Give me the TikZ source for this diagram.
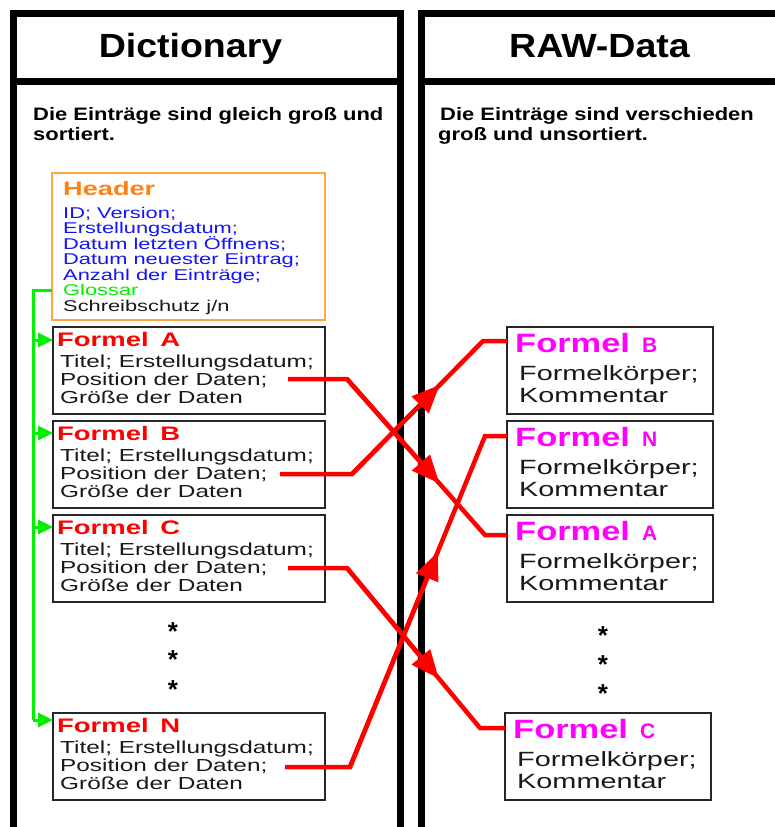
\documentclass[tikz,border=0pt]{standalone}
\usepackage{fontspec}
\setmainfont{Liberation Sans}
\newfontfamily\ttlfont[FakeStretch=1.12]{Liberation Sans}
\newfontfamily\subfont[FakeStretch=1.22]{Liberation Sans}
\newfontfamily\boxfont[FakeStretch=1.4]{Liberation Sans}
\newfontfamily\rfont[FakeStretch=1.3]{Liberation Sans}
\usetikzlibrary{arrows.meta,calc}

\definecolor{hdrorange}{RGB}{255,130,20}
\definecolor{hdrborder}{RGB}{255,165,70}
\definecolor{hdrblue}{RGB}{20,20,245}
\definecolor{glgreen}{RGB}{0,240,0}
\definecolor{lnred}{RGB}{255,0,0}
\definecolor{fmag}{RGB}{255,0,255}

\newcommand\lentry[3]{%
  \node[lbox] (#1) at (53,#2) {};
  \node[ltitle] (#1-t) at ($(#1.north west)+(4,19)$) {Formel\hspace{4pt} #3};
  \node[lbody] (#1-a) at ($(#1.north west)+(7,40)$) {Titel; Erstellungsdatum;};
  \node[lbody] (#1-b) at ($(#1.north west)+(7,58)$) {Position der Daten;};
  \node[lbody] (#1-c) at ($(#1.north west)+(7,76)$) {Größe der Daten};
}
\newcommand\rentry[4]{%
  \node[rbox] (#1) at (#2,#3) {};
  \node[rtitle] (#1-t) at ($(#1.north west)+(8,25)$) {{\rfont\fontsize{26.5}{30}\selectfont Formel}\hspace{12pt}{\fontsize{21}{24}\selectfont #4}};
  \node[rbody] (#1-a) at ($(#1.north west)+(12,53)$) {Formelkörper;};
  \node[rbody] (#1-b) at ($(#1.north west)+(12,75)$) {Kommentar};
}

\begin{document}
\begin{tikzpicture}[x=1pt,y=-1pt,
  frame/.style={line width=7pt,black},
  ttl/.style={font=\ttlfont\bfseries\fontsize{33.5}{40}\selectfont,inner sep=0pt,anchor=base},
  sub/.style={font=\subfont\bfseries\fontsize{18}{22}\selectfont,inner sep=0pt,anchor=base west},
  hdrbox/.style={draw=hdrborder,line width=2pt,anchor=north west,minimum width=273pt,minimum height=147pt,inner sep=0pt,outer sep=0pt},
  hdrttl/.style={font=\boxfont\bfseries\fontsize{19.4}{22}\selectfont,text=hdrorange,inner sep=0pt,anchor=base west},
  hdrln/.style={font=\boxfont\fontsize{15.6}{16}\selectfont,text=hdrblue,inner sep=0pt,anchor=base west},
  lbox/.style={draw=black!85,line width=2pt,anchor=north west,minimum width=272pt,minimum height=87pt,inner sep=0pt,outer sep=0pt},
  ltitle/.style={font=\boxfont\bfseries\fontsize{19.6}{22}\selectfont,text=lnred,inner sep=0pt,anchor=base west},
  lbody/.style={font=\boxfont\fontsize{17.4}{18}\selectfont,text=black!90,inner sep=0pt,anchor=base west},
  rbox/.style={draw=black!85,line width=2.2pt,anchor=north west,minimum width=206pt,minimum height=87pt,inner sep=0pt,outer sep=0pt},
  rtitle/.style={font=\bfseries,text=fmag,inner sep=0pt,anchor=base west},
  rbody/.style={font=\boxfont\fontsize{20.6}{22}\selectfont,text=black!90,inner sep=0pt,anchor=base west},
  starnode/.style={font=\bfseries\fontsize{26}{28}\selectfont,inner sep=0pt,anchor=base},
  gline/.style={glgreen,line width=3pt},
  garrow/.style={glgreen,line width=3pt,-{Triangle[length=15pt,width=14pt]}},
  rline/.style={lnred,line width=4.5pt},
  rarrow/.style={lnred,line width=4.5pt,-{Triangle[length=28pt,width=23pt]}}
]
\useasboundingbox (0,0) rectangle (775,827);
\fill[white] (0,0) rectangle (775,827);

% column frames
\draw[frame] (13,840) -- (13,13) -- (400,13) -- (400,840);
\draw[frame] (13,81) -- (400,81);
\draw[frame] (421,840) -- (421,13) -- (790,13);
\draw[frame] (421,81) -- (790,81);

% titles
\node[ttl] (t1) at (190.5,57.5) {Dictionary};
\node[ttl] (t2) at (599.5,57.5) {RAW-Data};

% subtitles
\node[sub] (s1) at (33,120) {Die Einträge sind gleich groß und};
\node[sub] (s2) at (33,140) {sortiert.};
\node[sub] (s3) at (440,120) {Die Einträge sind verschieden};
\node[sub] (s4) at (438,140) {groß und unsortiert.};

% header
\node[hdrbox] (hdr) at (52,173) {};
\node[hdrttl] (h0) at (63,195) {Header};
\node[hdrln] (h1) at (63,218) {ID; Version;};
\node[hdrln] (h2) at (63,233.5) {Erstellungsdatum;};
\node[hdrln] (h3) at (63,249) {Datum letzten Öffnens;};
\node[hdrln] (h4) at (63,264.5) {Datum neuester Eintrag;};
\node[hdrln] (h5) at (63,280) {Anzahl der Einträge;};
\node[hdrln,text=glgreen] (h6) at (63,295.5) {Glossar};
\node[hdrln,text=black!90] (h7) at (63,311) {Schreibschutz j/n};

% left entries
\lentry{la}{327}{A}
\lentry{lb}{421}{B}
\lentry{lc}{515}{C}
\lentry{ln}{713}{N}

% right entries
\rentry{rb}{507}{327}{B}
\rentry{rn}{507}{421}{N}
\rentry{ra}{507}{515}{A}
\rentry{rc}{505}{713}{C}

% stars
\node[starnode] (ls1) at (173,640) {*};
\node[starnode] (ls2) at (173,668) {*};
\node[starnode] (ls3) at (173,698) {*};
\node[starnode] (rs1) at (603,644) {*};
\node[starnode] (rs2) at (603,673) {*};
\node[starnode] (rs3) at (603,702) {*};

% green glossary links
\coordinate (gtop) at (33,290);
\coordinate (gbot) at (33,720);
\coordinate (ga) at (33,340);
\coordinate (gb) at (33,433);
\coordinate (gc) at (33,527);
\draw[gline] (hdr.west |- gtop) -- (gtop) -- (gbot);
\draw[garrow] (ga) -- (la.west |- ga);
\draw[garrow] (gb) -- (lb.west |- gb);
\draw[garrow] (gc) -- (lc.west |- gc);
\draw[garrow] (gbot) -- (ln.west |- gbot);

% red data links
\coordinate (pa) at (288,379);
\coordinate (pa1) at (347,379);
\coordinate (pa2) at (485,535);
\draw[rline] (pa) -- (pa1) -- (pa2) -- (ra.west |- pa2);
\draw[rarrow] (pa1) -- ($(pa1)!0.67!(pa2)$);

\coordinate (pb) at (280,474);
\coordinate (pb1) at (352,474);
\coordinate (pb2) at (483,341);
\draw[rline] (pb) -- (pb1) -- (pb2) -- (rb.west |- pb2);
\draw[rarrow] (pb1) -- ($(pb1)!0.67!(pb2)$);

\coordinate (pc) at (288,568);
\coordinate (pc1) at (347,568);
\coordinate (pc2) at (480,728);
\draw[rline] (pc) -- (pc1) -- (pc2) -- (rc.west |- pc2);
\draw[rarrow] (pc1) -- ($(pc1)!0.69!(pc2)$);

\coordinate (pn) at (285,767);
\coordinate (pn1) at (350,767);
\coordinate (pn2) at (485,436);
\draw[rline] (pn) -- (pn1) -- (pn2) -- (rn.west |- pn2);
\draw[rarrow] (pn1) -- ($(pn1)!0.65!(pn2)$);
\end{tikzpicture}
\end{document}
